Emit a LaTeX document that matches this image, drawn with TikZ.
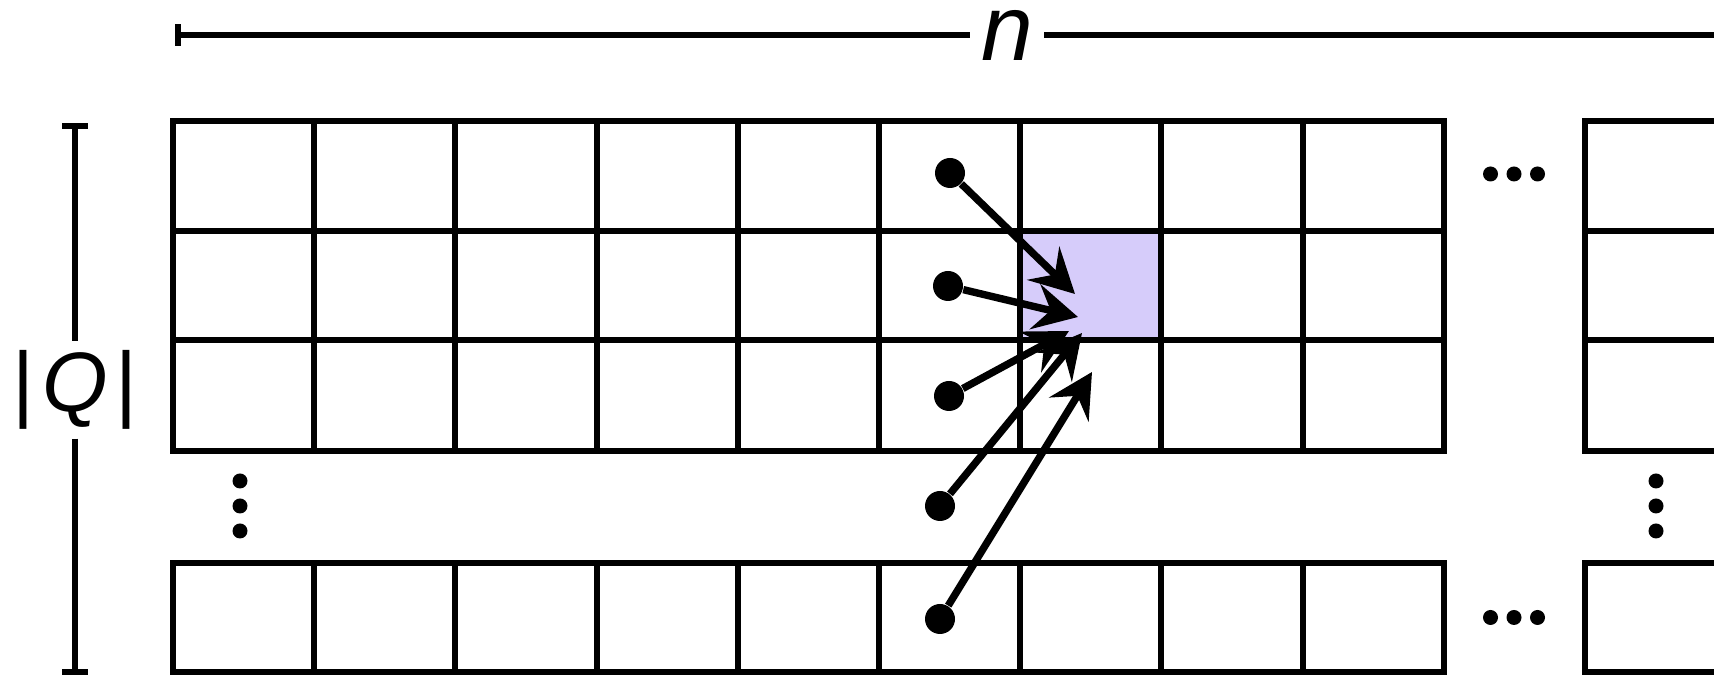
\documentclass[tikz,border=0pt]{standalone}
\usepackage{fontspec}
\setmainfont{Liberation Sans}
\usetikzlibrary{arrows.meta}
\definecolor{lavender}{RGB}{214,204,250}
\newcommand{\dimfont}{\fontsize{26.5}{30}\selectfont}
\newcommand{\qfont}{\fontsize{24}{28}\selectfont}

\begin{document}
\begin{tikzpicture}[x=1cm,y=1cm,
    cell/.style={line width=1.7pt,line cap=rect},
    dimline/.style={line width=1.8pt},
    src/.style={circle,fill,inner sep=0pt,minimum size=3mm},
    ptr/.style={-{Stealth[length=4.4mm,width=4.6mm,inset=1.6mm]},line width=2.1pt}]
  \useasboundingbox (0,0) rectangle (17.14,6.76);
  \clip (0,0) rectangle (17.14,6.76);
  \fill[lavender] (10.202,3.357) rectangle (11.614,4.453);
  \foreach \y in {0.04,1.13,2.25,3.357,4.453,5.55}{
    \draw[cell] (1.73,\y) -- (14.438,\y);
    \draw[cell] (15.85,\y) -- (17.6,\y);
  }
  \foreach \x in {0,...,9}{
    \draw[cell] ({1.73+1.412*\x},2.25) -- ({1.73+1.412*\x},5.55);
    \draw[cell] ({1.73+1.412*\x},0.04) -- ({1.73+1.412*\x},1.13);
  }
  \draw[cell] (15.85,2.25) -- (15.85,5.55);
  \draw[cell] (15.85,0.04) -- (15.85,1.13);
  \foreach \dx in {-0.235,0,0.235}{
    \fill ({15.14+\dx},5.02) circle (0.075);
    \fill ({15.14+\dx},0.585) circle (0.075);
  }
  \foreach \dy in {-0.25,0,0.25}{
    \fill (2.40,{1.70+\dy}) circle (0.075);
    \fill (16.56,{1.70+\dy}) circle (0.075);
  }

  \coordinate (qtop) at (0.75,5.50);
  \coordinate (qbot) at (0.75,0.04);
  \node[font=\qfont,inner xsep=0pt,inner ysep=2.4pt] (qlab) at (0.75,2.86) {|\kern2.2pt\textit{Q}\kern2.2pt|};
  \draw[dimline] (qtop) -- (qlab) (qlab) -- (qbot);
  \draw[dimline] ([xshift=-1.3mm]qtop) -- ([xshift=1.3mm]qtop);
  \draw[dimline] ([xshift=-1.3mm]qbot) -- ([xshift=1.3mm]qbot);

  \coordinate (nleft) at (1.78,6.41);
  \coordinate (nright) at (18.34,6.41);
  \node[font=\dimfont,inner xsep=3pt,inner ysep=1pt] (nlab) at (10.07,6.41) {\textit{n}};
  \draw[dimline] (nleft) -- (nlab) (nlab) -- (nright);
  \draw[dimline] ([yshift=-1.1mm]nleft) -- ([yshift=1.1mm]nleft);

  \foreach \k/\sx/\sy/\tx/\ty in {1/9.50/5.03/10.75/3.82, 2/9.48/3.90/10.78/3.59, 3/9.49/2.80/10.69/3.45, 4/9.40/1.70/10.82/3.43, 5/9.40/0.57/10.92/3.04}{
    \node[src] (s\k) at (\sx,\sy) {};
    \coordinate (t\k) at (\tx,\ty);
    \draw[ptr] (s\k) -- (t\k);
  }
\end{tikzpicture}
\end{document}
